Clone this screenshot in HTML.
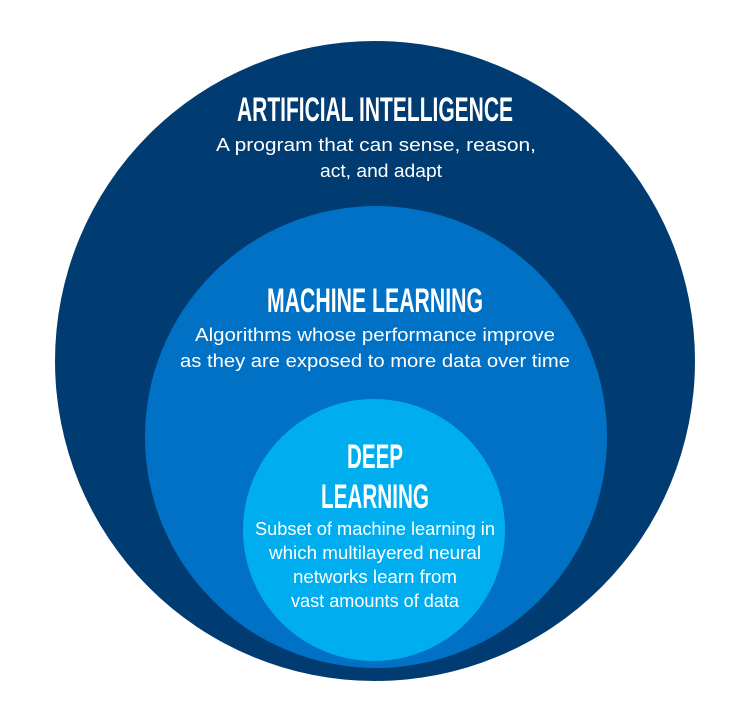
<!DOCTYPE html>
<html><head><meta charset="utf-8"><style>
html,body{margin:0;padding:0;background:#fff;width:750px;height:727px;overflow:hidden}
</style></head><body>
<svg width="750" height="727" viewBox="0 0 750 727" xmlns="http://www.w3.org/2000/svg">
<circle cx="375" cy="361" r="320" fill="#003c71"/>
<circle cx="376" cy="437" r="231" fill="#0071c5"/>
<circle cx="374" cy="530" r="131" fill="#00aeef"/>
<g fill="#fff" font-family="'Liberation Sans Narrow','Liberation Sans',sans-serif" font-weight="bold" text-anchor="middle">
<text x="375" y="121" font-size="34" textLength="276" lengthAdjust="spacingAndGlyphs">ARTIFICIAL INTELLIGENCE</text>
<text x="375" y="312" font-size="34" textLength="216" lengthAdjust="spacingAndGlyphs">MACHINE LEARNING</text>
<text x="375" y="468" font-size="34" textLength="56" lengthAdjust="spacingAndGlyphs">DEEP</text>
<text x="375" y="508" font-size="34" textLength="108" lengthAdjust="spacingAndGlyphs">LEARNING</text>
</g>
<g fill="#fff" font-family="'Liberation Sans',sans-serif" font-size="18" text-anchor="middle">
<text x="376" y="151" textLength="320" lengthAdjust="spacingAndGlyphs">A program that can sense, reason,</text>
<text x="381" y="177" textLength="122" lengthAdjust="spacingAndGlyphs">act, and adapt</text>
<text x="375" y="341" textLength="360" lengthAdjust="spacingAndGlyphs">Algorithms whose performance improve</text>
<text x="375" y="367" textLength="390" lengthAdjust="spacingAndGlyphs">as they are exposed to more data over time</text>
<text x="375" y="535" textLength="240" lengthAdjust="spacingAndGlyphs">Subset of machine learning in</text>
<text x="375" y="559" textLength="212" lengthAdjust="spacingAndGlyphs">which multilayered neural</text>
<text x="375" y="583" textLength="164" lengthAdjust="spacingAndGlyphs">networks learn from</text>
<text x="375" y="607" textLength="168" lengthAdjust="spacingAndGlyphs">vast amounts of data</text>
</g>
</svg>
</body></html>
